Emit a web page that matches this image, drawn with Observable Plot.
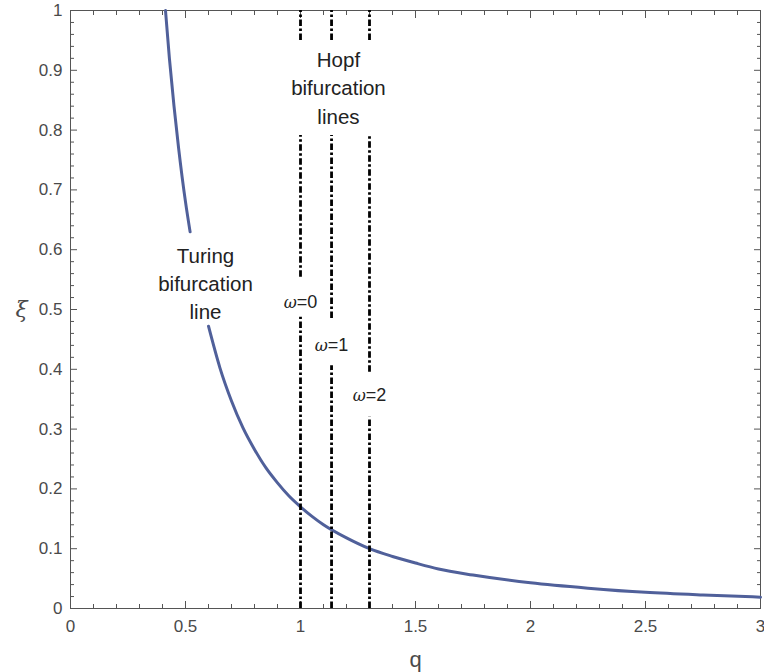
<!DOCTYPE html>
<html>
<head>
<meta charset="utf-8">
<script src="https://cdn.jsdelivr.net/npm/d3@7"></script>
<script src="https://cdn.jsdelivr.net/npm/@observablehq/plot@0.6"></script>
<style>
  html, body { margin: 0; padding: 0; background: #fff; }
  #chart svg { display: block; }
</style>
</head>
<body>
<div id="chart"></div>
<script>
// Turing bifurcation curve (null = gap behind the label)
const curveQ  = [0.413, 0.43, 0.45, 0.47, 0.50, 0.52, 0.56, 0.60, 0.65, 0.70, 0.75, 0.80, 0.85, 0.90, 0.95, 1.00, 1.05, 1.10, 1.20, 1.30, 1.40, 1.50, 1.60, 1.75, 2.00, 2.25, 2.50, 2.75, 3.00];
const curveXi = [1.00, 0.92, 0.84, 0.77, 0.68, 0.63, null, 0.472, 0.402, 0.347, 0.302, 0.266, 0.235, 0.21, 0.188, 0.17, 0.154, 0.14, 0.118, 0.10, 0.087, 0.076, 0.066, 0.056, 0.043, 0.034, 0.027, 0.0225, 0.019];

// Hopf bifurcation lines (vertical), with their visible pieces
const hopfQ      = [1.0, 1.135, 1.3];
const hopfLabels = ["ω=0", "ω=1", "ω=2"];
const hopfLabelXi = [0.512, 0.44, 0.356];
const hopfPieceStart = [[0.95, 0.554, 0], [0.95, 0.485, 0], [0.95, 0.395, 0]];
const hopfPieceEnd   = [[1.0, 0.791, 0.487], [1.0, 0.791, 0.406], [1.0, 0.791, 0.32]];

// Annotations
const annotText = ["Turing\nbifurcation\nline", "Hopf\nbifurcation\nlines"];
const annotQ    = [0.587, 1.165];
const annotXi   = [0.546, 0.873];

// Ticks
const xMajor = [0, 0.5, 1, 1.5, 2, 2.5, 3];
const xMajorLabels = ["0", "0.5", "1", "1.5", "2", "2.5", "3"];
const xMinor = [0.1,0.2,0.3,0.4,0.6,0.7,0.8,0.9,1.1,1.2,1.3,1.4,1.6,1.7,1.8,1.9,2.1,2.2,2.3,2.4,2.6,2.7,2.8,2.9];
const yMajor = [0, 0.1, 0.2, 0.3, 0.4, 0.5, 0.6, 0.7, 0.8, 0.9, 1];
const yMajorLabels = ["0", "0.1", "0.2", "0.3", "0.4", "0.5", "0.6", "0.7", "0.8", "0.9", "1"];
const yMinor = [];
[0.02,0.04,0.06,0.08].forEach(f => yMajor.slice(0, -1).forEach(m => yMinor.push(+(m + f).toFixed(2))));

const curve = curveQ.map((q, i) => ({q, xi: curveXi[i]}));
const pieces = [];
hopfQ.forEach((q, i) => hopfPieceStart[i].forEach((s, j) => pieces.push({q, y1: s, y2: hopfPieceEnd[i][j]})));
const hopfLab = hopfQ.map((q, i) => ({q, xi: hopfLabelXi[i], t: hopfLabels[i]}));
const annots = annotText.map((t, i) => ({t, q: annotQ[i], xi: annotXi[i]}));

const FONT = "'Liberation Sans', Arial, sans-serif";
const axisColor = "#555";
const xFmt = d => xMajorLabels[xMajor.indexOf(d)];
const yFmt = d => yMajorLabels[yMajor.indexOf(d)];
const blank = () => "";

const chart = Plot.plot({
  width: 764,
  height: 672,
  marginLeft: 70,
  marginRight: 4,
  marginTop: 10,
  marginBottom: 64,
  style: {fontFamily: FONT, background: "#fff"},
  x: {domain: [0, 3]},
  y: {domain: [0, 1]},
  marks: [
    // labels
    Plot.axisX({anchor: "bottom", ticks: xMajor, tickSize: 0, tickPadding: 11, tickFormat: xFmt, fontSize: 17, color: "#4a4a4a", label: null}),
    Plot.axisY({anchor: "left", ticks: yMajor, tickSize: 0, tickPadding: 8, tickFormat: yFmt, fontSize: 17, color: "#4a4a4a", label: null}),
    // inward ticks, all four sides
    Plot.axisX({anchor: "bottom", ticks: xMajor, tickSize: -7, tickFormat: blank, stroke: axisColor, label: null}),
    Plot.axisX({anchor: "bottom", ticks: xMinor, tickSize: -4, tickFormat: blank, stroke: axisColor, label: null}),
    Plot.axisX({anchor: "top", ticks: xMajor, tickSize: -7, tickFormat: blank, stroke: axisColor, label: null}),
    Plot.axisX({anchor: "top", ticks: xMinor, tickSize: -4, tickFormat: blank, stroke: axisColor, label: null}),
    Plot.axisY({anchor: "left", ticks: yMajor, tickSize: -7, tickFormat: blank, stroke: axisColor, label: null}),
    Plot.axisY({anchor: "left", ticks: yMinor, tickSize: -4, tickFormat: blank, stroke: axisColor, label: null}),
    Plot.axisY({anchor: "right", ticks: yMajor, tickSize: -7, tickFormat: blank, stroke: axisColor, label: null}),
    Plot.axisY({anchor: "right", ticks: yMinor, tickSize: -4, tickFormat: blank, stroke: axisColor, label: null}),
    Plot.frame({stroke: axisColor, strokeWidth: 1}),
    // Turing curve
    Plot.line(curve, {x: "q", y: "xi", stroke: "#50609a", strokeWidth: 3, curve: "monotone-x"}),
    // Hopf lines
    Plot.ruleX(pieces, {x: "q", y1: "y1", y2: "y2", stroke: "#000", strokeWidth: 2.8, strokeDasharray: "6.5,2.5,2.5,2.5", strokeLinecap: "butt"}),
    Plot.text(hopfLab, {x: "q", y: "xi", text: "t", fontSize: 18, fill: "#222", textAnchor: "middle", lineAnchor: "middle"}),
    Plot.text(annots, {x: "q", y: "xi", text: "t", fontSize: 20.5, fill: "#222", lineHeight: 1.37, textAnchor: "middle", lineAnchor: "middle"}),
    // axis titles
    Plot.text(["q"], {frameAnchor: "bottom", dy: 51, fontSize: 22, fill: "#4a4a4a", lineAnchor: "middle"}),
    Plot.text(["ξ"], {frameAnchor: "left", dx: -55, fontSize: 22, fill: "#4a4a4a", lineAnchor: "middle", fontFamily: "'DejaVu Serif', serif", fontStyle: "italic"})
  ]
});

// italic omega like the original
chart.querySelectorAll("text, tspan").forEach(el => {
  if (el.children.length === 0 && el.textContent.startsWith("ω")) {
    const rest = el.textContent.slice(1);
    el.textContent = "";
    const a = document.createElementNS("http://www.w3.org/2000/svg", "tspan");
    a.setAttribute("font-style", "italic");
    a.setAttribute("font-family", "'DejaVu Serif', serif");
    a.setAttribute("font-size", "16");
    a.textContent = "ω";
    const b = document.createElementNS("http://www.w3.org/2000/svg", "tspan");
    b.textContent = rest;
    el.appendChild(a);
    el.appendChild(b);
  }
});

document.getElementById("chart").appendChild(chart);
</script>
</body>
</html>
